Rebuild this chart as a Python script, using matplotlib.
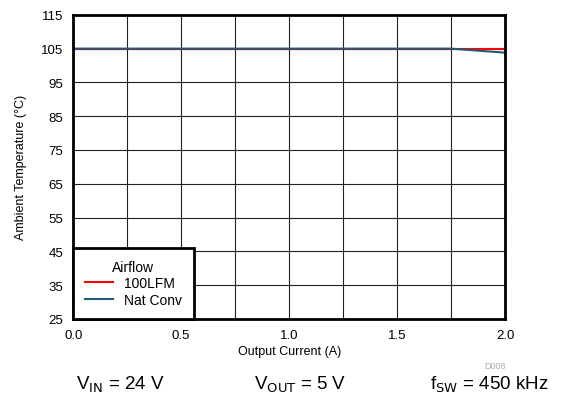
import matplotlib
matplotlib.use('Agg')
import matplotlib.pyplot as plt

plt.rcParams['font.family'] = ['Liberation Sans', 'DejaVu Sans']

# data
current_lfm = [0.0, 0.25, 0.5, 0.75, 1.0, 1.25, 1.5, 1.75, 2.0]
temp_lfm = [105, 105, 105, 105, 105, 105, 105, 105, 105]
current_nat = [0.0, 0.25, 0.5, 0.75, 1.0, 1.25, 1.5, 1.75, 2.0]
temp_nat = [105, 105, 105, 105, 105, 105, 105, 105, 103.8]
series_labels = ['100LFM', 'Nat Conv']

fig = plt.figure(figsize=(5.72, 4.06), dpi=100)
ax = fig.add_axes([0.128, 0.212, 0.755, 0.749])

ax.plot(current_lfm, temp_lfm, color='#ff0000', lw=1.5, label=series_labels[0])
ax.plot(current_nat, temp_nat, color='#1f5a7a', lw=1.5, label=series_labels[1])

ax.set_xlim(0, 2)
ax.set_ylim(25, 115)
ax.set_xticks([0.0, 0.5, 1.0, 1.5, 2.0])
ax.set_xticks([0.25, 0.75, 1.25, 1.75], minor=True)
ax.set_yticks(range(25, 116, 10))
ax.grid(True, which='both', color='#222222', lw=0.8)
ax.tick_params(which='both', length=0, labelsize=9.5, pad=7)
for s in ax.spines.values():
    s.set_linewidth(2)

ax.set_xlabel('Output Current (A)', fontsize=9, labelpad=3)
ax.set_ylabel('Ambient Temperature (\u00b0C)', fontsize=9, labelpad=10)

leg = ax.legend(title='Airflow', loc='lower left', fontsize=10, title_fontsize=10,
                fancybox=False, framealpha=1, edgecolor='black',
                borderaxespad=0, handlelength=2.0, borderpad=0.85, labelspacing=0.2,
                handletextpad=0.8)
leg.get_frame().set_linewidth(2)

fig.text(0.885, 0.09, 'D008', fontsize=6.5, color='#aaaaaa', ha='right')
fig.text(0.21, 0.04, r'V$_{\mathrm{IN}}$ = 24 V', fontsize=13.5, ha='center')
fig.text(0.525, 0.04, r'V$_{\mathrm{OUT}}$ = 5 V', fontsize=13.5, ha='center')
fig.text(0.855, 0.04, r'f$_{\mathrm{SW}}$ = 450 kHz', fontsize=13.5, ha='center')

fig.savefig('out.png', dpi=100)
